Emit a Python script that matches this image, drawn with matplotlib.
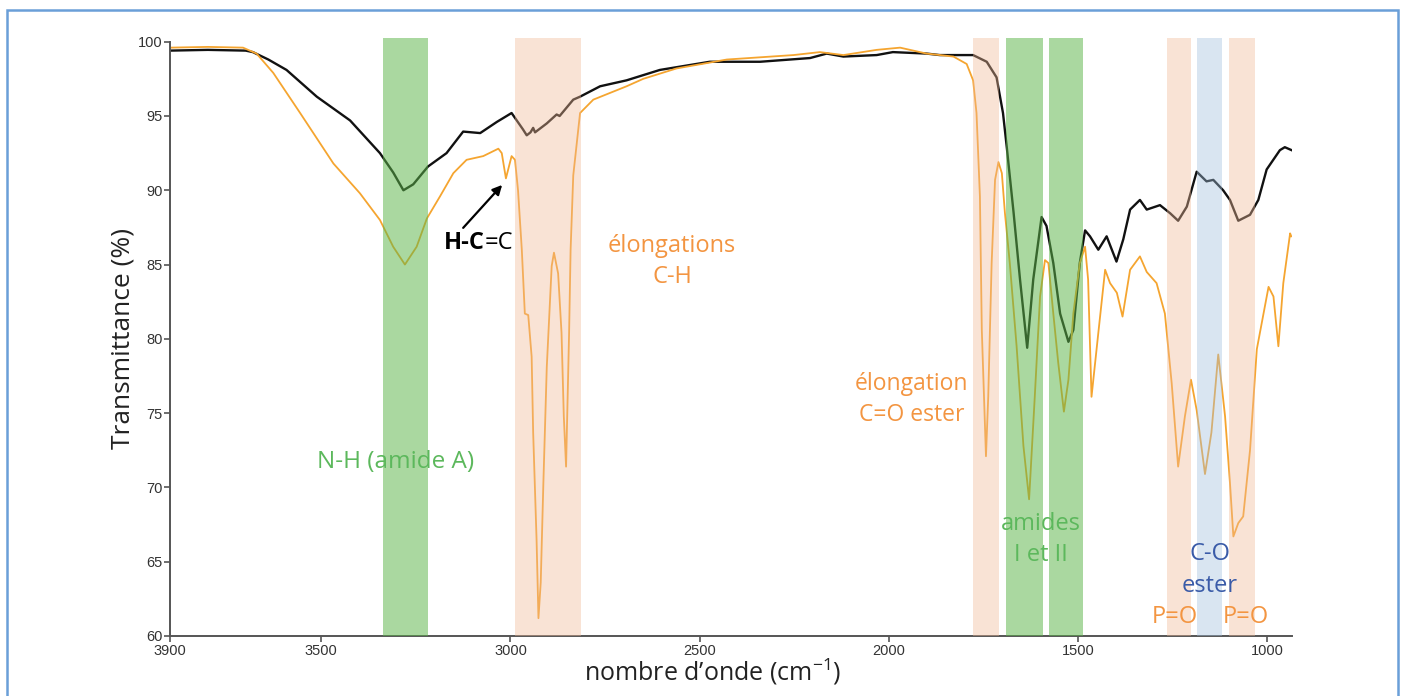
import matplotlib
matplotlib.use("Agg")
import matplotlib.pyplot as plt
from matplotlib.patches import Rectangle

# ---------------- data ----------------
black_wn = [3900, 3800, 3700, 3681, 3640, 3592, 3512, 3424, 3345, 3310, 3283, 3257, 3218,
            3169, 3125, 3080, 3036, 2997, 2967, 2957, 2947, 2940, 2935, 2904, 2878, 2870,
            2834, 2816, 2763, 2693, 2605, 2473, 2340, 2208, 2164, 2120, 2032, 1989, 1900,
            1865, 1777, 1741, 1715, 1698, 1688, 1670, 1653, 1634, 1618, 1596, 1583, 1565,
            1547, 1525, 1512, 1495, 1481, 1468, 1446, 1424, 1398, 1380, 1362, 1336, 1318,
            1283, 1256, 1235, 1212, 1186, 1160, 1142, 1116, 1098, 1076, 1045, 1023, 1001,
            966, 953, 935]
black_T = [99.4, 99.45, 99.4, 99.3, 98.8, 98.1, 96.3, 94.7, 92.5, 91.2, 90.0, 90.4, 91.6,
           92.5, 93.95, 93.85, 94.6, 95.2, 94.1, 93.7, 93.9, 94.2, 93.9, 94.5, 95.1, 95.0,
           96.1, 96.3, 97.0, 97.4, 98.1, 98.65, 98.65, 98.9, 99.2, 99.0, 99.1, 99.3, 99.2,
           99.1, 99.1, 98.65, 97.6, 95.2, 92.9, 88.5, 84.0, 79.4, 84.0, 88.2, 87.6, 85.1,
           81.7, 79.8, 80.6, 85.1, 87.3, 86.9, 86.0, 86.9, 85.2, 86.7, 88.7, 89.35, 88.7,
           89.0, 88.45, 87.95, 88.9, 91.25, 90.6, 90.7, 90.0, 89.35, 87.95, 88.35, 89.35,
           91.4, 92.7, 92.9, 92.7]

orange_wn = [3900, 3800, 3707, 3671, 3627, 3556, 3468, 3398, 3345, 3310, 3279, 3248, 3221,
             3186, 3151, 3116, 3072, 3032, 3023, 3012, 2997, 2988, 2980, 2970, 2962, 2953,
             2944, 2940, 2931, 2926, 2920, 2913, 2904, 2891, 2885, 2874, 2865, 2859, 2853,
             2849, 2845, 2841, 2834, 2816, 2781, 2693, 2649, 2561, 2428, 2252, 2182, 2120,
             2032, 1970, 1900, 1829, 1794, 1777, 1768, 1759, 1754, 1743, 1737, 1728, 1719,
             1710, 1701, 1693, 1680, 1662, 1644, 1629, 1614, 1600, 1587, 1578, 1565, 1552,
             1537, 1525, 1512, 1495, 1481, 1473, 1464, 1446, 1428, 1415, 1397, 1382, 1362,
             1336, 1318, 1292, 1270, 1252, 1235, 1217, 1201, 1186, 1164, 1147, 1129, 1111,
             1098, 1089, 1076, 1063, 1045, 1027, 996, 983, 970, 957, 939, 936]
orange_T = [99.6, 99.65, 99.6, 99.2, 97.9, 95.2, 91.8, 89.8, 88.0, 86.2, 85.0, 86.2, 88.1,
            89.6, 91.15, 92.05, 92.3, 92.8, 92.5, 90.8, 92.3, 92.05, 90.0, 86.0, 81.7, 81.6,
            78.8, 73.7, 66.5, 61.2, 63.6, 70.3, 78.1, 84.9, 85.8, 84.4, 80.4, 74.8, 71.4,
            75.9, 80.4, 86.0, 91.0, 95.2, 96.1, 97.0, 97.5, 98.2, 98.8, 99.1, 99.3, 99.1,
            99.45, 99.6, 99.2, 99.0, 98.5, 97.4, 95.2, 89.6, 80.6, 72.1, 76.1, 85.1, 90.7,
            91.9, 91.15, 88.5, 85.1, 79.5, 72.8, 69.2, 76.1, 82.85, 85.3, 85.1, 81.7, 78.4,
            75.1, 77.25, 81.7, 85.1, 86.2, 84.0, 76.1, 80.4, 84.65, 83.75, 83.1, 81.5, 84.65,
            85.55, 84.5, 83.75, 81.7, 77.0, 71.4, 74.8, 77.25, 75.2, 70.9, 73.7, 78.95, 74.8,
            70.3, 66.7, 67.6, 68.05, 72.5, 79.3, 83.5, 82.85, 79.5, 83.75, 87.1, 86.9]

# shaded bands: (high wavenumber, low wavenumber, kind)
band_hi = [3338, 2988, 1777, 1690, 1576, 1265, 1186, 1100]
band_lo = [3217, 2814, 1708, 1591, 1487, 1201, 1118, 1031]
band_kind = ["green", "salmon", "salmon", "green", "green", "salmon", "blue", "salmon"]

x_ticks = [3900, 3500, 3000, 2500, 2000, 1500, 1000]
y_ticks = [60, 65, 70, 75, 80, 85, 90, 95, 100]

# ---------------- figure ----------------
plt.rcParams['font.family'] = ['Open Sans', 'DejaVu Sans']
plt.rcParams['mathtext.fontset'] = 'custom'
plt.rcParams['mathtext.rm'] = 'Open Sans'
plt.rcParams['mathtext.it'] = 'Open Sans'
fig = plt.figure(figsize=(14.05, 6.96), dpi=100)
ax = fig.add_axes([170 / 1405, 60 / 696, 1122 / 1405, 594.3 / 696])

# blue frame around the figure (open at the bottom)
fig.add_artist(Rectangle((7 / 1405, -0.05), (1398 - 7) / 1405, 1.05 - 10 / 696,
                         transform=fig.transFigure, fill=False,
                         edgecolor="#6a9fd8", linewidth=1.8))

ax.plot(black_wn, black_T, color="#111111", lw=1.7, zorder=2)
ax.plot(orange_wn, orange_T, color="#f5a530", lw=1.3, zorder=2)

band_colors = {"green": ("#5cb54a", 0.52), "salmon": ("#f0b998", 0.4),
               "blue": ("#a2c0de", 0.4)}
for hi, lo, kind in zip(band_hi, band_lo, band_kind):
    c, a = band_colors[kind]
    ax.axvspan(lo, hi, ymin=0, ymax=1.006, color=c, alpha=a, lw=0, zorder=3,
               clip_on=False)

ax.set_xlim(3900, 934)
ax.set_ylim(60, 100)
ax.set_xticks(x_ticks)
ax.set_yticks(y_ticks)
for s in ["top", "right"]:
    ax.spines[s].set_visible(False)
for s in ["left", "bottom"]:
    ax.spines[s].set_color("#555555")
    ax.spines[s].set_linewidth(1.4)
ax.tick_params(axis="both", colors="#555555", labelcolor="#333333", length=4,
               width=1.2, labelsize=10.5, pad=1.5)
for lab in ax.get_xticklabels() + ax.get_yticklabels():
    lab.set_family(["Liberation Sans", "DejaVu Sans"])

ax.set_ylabel("Transmittance (%)", fontsize=19, color="#222222", labelpad=1.5)
ax.set_xlabel("nombre d\u2019onde (cm$^{-1}$)", fontsize=18, color="#222222",
              labelpad=-1)
ax.xaxis.label.set_x((713 - 170) / 1122)

# annotations
ax.text(3305, 71.7, "N-H (amide A)", color="#5cb85c", fontsize=17.5, ha="center",
        va="center", zorder=5)
ax.text(3067, 86.45, "H-C", color="black", fontsize=17, ha="right", va="center",
        fontweight="bold", zorder=5)
ax.text(3067, 86.45, "=C", color="black", fontsize=17, ha="left", va="center", zorder=5)
ax.annotate("", xy=(3022, 90.36), xytext=(3125, 87.47),
            arrowprops=dict(arrowstyle="-|>", color="black", lw=1.6,
                            mutation_scale=14, shrinkA=0, shrinkB=0), zorder=5)
ax.text(2573, 85.2, "\u00e9longations\nC-H", color="#f39541", fontsize=17,
        ha="center", va="center", linespacing=1.4, zorder=5)
ax.text(1939, 75.9, "\u00e9longation\nC=O ester", color="#f39541", fontsize=16.5,
        ha="center", va="center", linespacing=1.4, zorder=5)
ax.text(1598, 66.5, "amides\nI et II", color="#5cb85c", fontsize=17,
        ha="center", va="center", linespacing=1.4, zorder=5)
ax.text(1151, 64.45, "C-O\nester", color="#3a5ba8", fontsize=17,
        ha="center", va="center", linespacing=1.45, zorder=5)
ax.text(1243, 61.25, "P=O", color="#f39541", fontsize=17, ha="center", va="center",
        zorder=5)
ax.text(1056, 61.25, "P=O", color="#f39541", fontsize=17, ha="center", va="center",
        zorder=5)

fig.savefig("out.png", dpi=100)
